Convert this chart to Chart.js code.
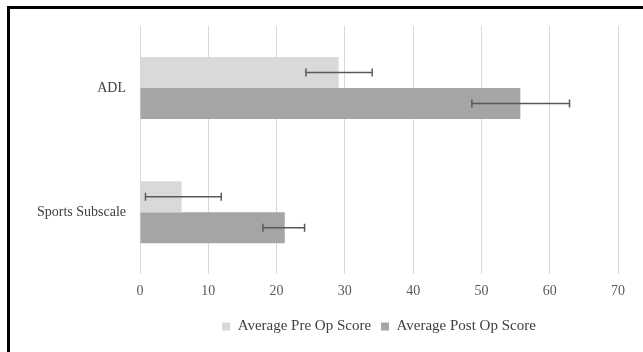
<!DOCTYPE html>
<html lang="en">
<head>
  <meta charset="UTF-8" />
  <title>Pre / Post Op Scores</title>
  <script src="https://cdn.jsdelivr.net/npm/chart.js@4.4.1/dist/chart.umd.min.js"></script>
  <style>
    body { margin: 0; background: #fff; }
    .wrap { position: relative; width: 643px; height: 352px; }
    .frame {
      position: absolute; left: 7px; top: 6px; right: 0; bottom: 0;
      border-top: 3px solid #000; border-left: 3px solid #000;
      pointer-events: none;
    }
    canvas#scoreChart { position: absolute; left: 0; top: 0; }
  </style>
</head>
<body>
  <div class="wrap">
    <canvas id="scoreChart" width="643" height="352"></canvas>
    <div class="frame"></div>
  </div>

  <script>
    const categories = ["ADL", "Sports Subscale"];
    const preOp = [29.1, 6.1];
    const postOp = [55.7, 21.2];
    // error bar ends (low, high)
    const preLow = [24.3, 0.8];
    const preHigh = [34.0, 11.9];
    const postLow = [48.6, 18.0];
    const postHigh = [62.9, 24.1];
    const xTicks = [0, 10, 20, 30, 40, 50, 60, 70];

    const errors = [
      { low: preLow, high: preHigh },
      { low: postLow, high: postHigh }
    ];

    const errorBars = {
      id: "errorBars",
      afterDatasetsDraw(chart) {
        const ctx = chart.ctx;
        const x = chart.scales.x;
        ctx.save();
        ctx.strokeStyle = "#595959";
        ctx.lineWidth = 1.5;
        chart.data.datasets.forEach((ds, di) => {
          const meta = chart.getDatasetMeta(di);
          meta.data.forEach((bar, i) => {
            const x1 = x.getPixelForValue(errors[di].low[i]);
            const x2 = x.getPixelForValue(errors[di].high[i]);
            const y = bar.y;
            ctx.beginPath();
            ctx.moveTo(x1, y); ctx.lineTo(x2, y);
            ctx.moveTo(x1, y - 4); ctx.lineTo(x1, y + 4);
            ctx.moveTo(x2, y - 4); ctx.lineTo(x2, y + 4);
            ctx.stroke();
          });
        });
        ctx.restore();
      }
    };

    const font = { family: "'Liberation Serif', 'DejaVu Serif', serif", size: 14 };

    new Chart(document.getElementById("scoreChart"), {
      type: "bar",
      data: {
        labels: categories,
        datasets: [
          { label: "Average Pre Op Score", data: preOp, backgroundColor: "#d9d9d9",
            categoryPercentage: 0.5, barPercentage: 1 },
          { label: "Average Post Op Score", data: postOp, backgroundColor: "#a5a5a5",
            categoryPercentage: 0.5, barPercentage: 1 }
        ]
      },
      options: {
        indexAxis: "y",
        responsive: false,
        animation: false,
        layout: { padding: { top: 26, right: 25, bottom: 8, left: 0 } },
        scales: {
          x: {
            min: 0, max: 70,
            afterBuildTicks: (s) => { s.ticks = xTicks.map(v => ({ value: v })); },
            grid: { color: "#d9d9d9", drawTicks: false },
            border: { display: false },
            ticks: { color: "#595959", font, padding: 9 }
          },
          y: {
            grid: { display: false },
            border: { display: false },
            afterFit: (s) => { s.width = 140; },
            ticks: { color: "#404040", font, padding: 6 }
          }
        },
        plugins: {
          legend: {
            position: "bottom",
            fullSize: false,
            labels: { color: "#404040", font: { ...font, size: 15 }, boxWidth: 8, boxHeight: 8, padding: 10 }
          },
          tooltip: { enabled: false }
        }
      },
      plugins: [errorBars]
    });
  </script>
</body>
</html>
